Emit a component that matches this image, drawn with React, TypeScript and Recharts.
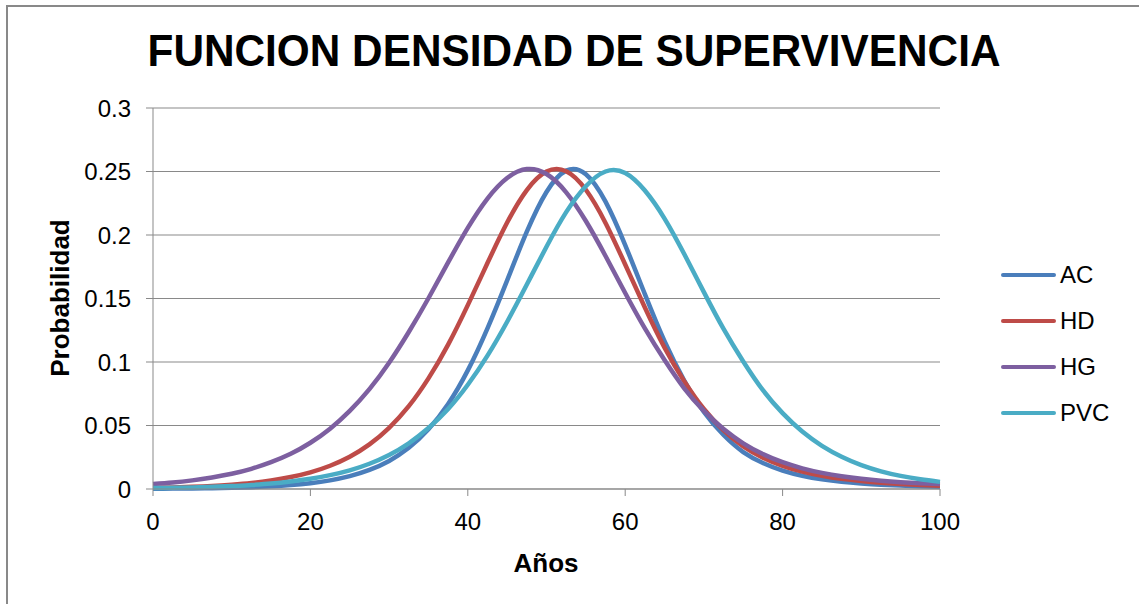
import React from "react";
import { LineChart, Line, XAxis, YAxis, CartesianGrid } from "recharts";

// edad (años), cada 2.5
const YEARS = [
  0, 2.5, 5, 7.5, 10, 12.5, 15, 17.5, 20, 22.5, 25, 27.5, 30, 32.5, 35, 37.5, 40, 42.5, 45, 47.5,
  50, 52.5, 55, 57.5, 60, 62.5, 65, 67.5, 70, 72.5, 75, 77.5, 80, 82.5, 85, 87.5, 90, 92.5, 95, 97.5, 100,
];

const AC = [
  0.0002, 0.0003, 0.0004, 0.0006, 0.0009, 0.0014, 0.0021, 0.0031, 0.0046, 0.0068, 0.0101, 0.015, 0.0221,
  0.0324, 0.047, 0.0669, 0.0934, 0.1265, 0.1643, 0.2026, 0.2339, 0.2507, 0.2479, 0.2263, 0.1921, 0.1534,
  0.1163, 0.0854, 0.0607, 0.0425, 0.0291, 0.0205, 0.0145, 0.0104, 0.0076, 0.0057, 0.0044, 0.0034, 0.0027,
  0.0021, 0.0017,
];

const HD = [
  0.0009, 0.0012, 0.0017, 0.0024, 0.0034, 0.0047, 0.0067, 0.0094, 0.0131, 0.0183, 0.0254, 0.0351, 0.0482,
  0.0652, 0.0871, 0.1137, 0.1448, 0.1779, 0.2098, 0.2354, 0.25, 0.2502, 0.2356, 0.2095, 0.1768, 0.1429,
  0.1113, 0.0849, 0.063, 0.0462, 0.0336, 0.0247, 0.0183, 0.0137, 0.0104, 0.008, 0.0063, 0.005, 0.004,
  0.0032, 0.0026,
];

const HG = [
  0.004, 0.0051, 0.0068, 0.0091, 0.012, 0.0159, 0.0211, 0.0277, 0.0364, 0.0475, 0.0615, 0.0786, 0.0994,
  0.1236, 0.1502, 0.1784, 0.2056, 0.2287, 0.2449, 0.2519, 0.248, 0.2336, 0.211, 0.1835, 0.1543, 0.1264,
  0.1015, 0.0793, 0.0615, 0.0472, 0.036, 0.0275, 0.0211, 0.0163, 0.0127, 0.01, 0.008, 0.0065, 0.0054,
  0.0046, 0.004,
];

const PVC = [
  0.0007, 0.0009, 0.0012, 0.0017, 0.0023, 0.0032, 0.0043, 0.0059, 0.008, 0.0109, 0.0147, 0.0199, 0.0268,
  0.036, 0.048, 0.063, 0.0821, 0.105, 0.1317, 0.161, 0.1908, 0.218, 0.2384, 0.25, 0.2488, 0.235, 0.2129,
  0.185, 0.155, 0.126, 0.1004, 0.0778, 0.0597, 0.0452, 0.034, 0.0254, 0.0188, 0.0139, 0.0103, 0.0076, 0.0056,
];

const X_TICKS = [0, 20, 40, 60, 80, 100];
const Y_TICKS = [0, 0.05, 0.1, 0.15, 0.2, 0.25, 0.3];
const Y_LABELS = ["0", "0.05", "0.1", "0.15", "0.2", "0.25", "0.3"];

const SERIES = [
  { key: "AC", values: AC, color: "#4a7ebb" },
  { key: "HD", values: HD, color: "#be4b48" },
  { key: "HG", values: HG, color: "#7d5fa0" },
  { key: "PVC", values: PVC, color: "#4aacc5" },
];

const data = YEARS.map((t, i) => {
  const row: Record<string, number> = { t };
  SERIES.forEach((s) => (row[s.key] = s.values[i]));
  return row;
});

const FONT = "'Liberation Sans', Arial, sans-serif";
const GRID = "#898989";

export default function App() {
  return (
    <div style={{ position: "absolute", left: 0, top: 0, width: 1139, height: 604, background: "#fff", overflow: "hidden", fontFamily: FONT }}>
      {/* marco */}
      <div style={{ position: "absolute", left: 6, top: 5, width: 1200, height: 700, borderTop: `2px solid ${GRID}`, borderLeft: `2px solid ${GRID}` }} />

      <LineChart width={1139} height={604} data={data} margin={{ top: 108, right: 199, bottom: 75, left: 0 }} style={{ position: "absolute", left: 0, top: 0 }}>
        <CartesianGrid vertical={false} stroke={GRID} strokeWidth={1} />
        <XAxis
          dataKey="t" type="number" domain={[0, 100]} ticks={X_TICKS} height={40}
          tick={{ fill: "#000", fontSize: 24, fontFamily: FONT }}
          axisLine={{ stroke: GRID }} tickLine={{ stroke: GRID }} tickSize={7} tickMargin={17}
        />
        <YAxis
          type="number" domain={[0, 0.3]} ticks={Y_TICKS} width={153}
          tickFormatter={(v) => Y_LABELS[Y_TICKS.indexOf(v)] ?? String(v)}
          tick={{ fill: "#000", fontSize: 24, fontFamily: FONT }}
          axisLine={{ stroke: GRID }} tickLine={{ stroke: GRID }} tickSize={7} tickMargin={15}
        />
        {SERIES.map((s) => (
          <Line
            key={s.key} type="natural" dataKey={s.key} stroke={s.color} strokeWidth={4.5}
            dot={false} activeDot={false} isAnimationActive={false}
          />
        ))}
      </LineChart>

      <div style={{ position: "absolute", left: 574, top: 51, transform: "translate(-50%, -50%) scaleX(0.962)", fontSize: 44, fontWeight: "bold", whiteSpace: "nowrap", lineHeight: 1 }}>
        FUNCION DENSIDAD DE SUPERVIVENCIA
      </div>

      <div style={{ position: "absolute", left: 60, top: 298, transform: "translate(-50%, -50%) rotate(-90deg)", fontSize: 26, fontWeight: "bold", whiteSpace: "nowrap", lineHeight: 1 }}>
        Probabilidad
      </div>

      <div style={{ position: "absolute", left: 546, top: 563, transform: "translate(-50%, -50%)", fontSize: 26, fontWeight: "bold", whiteSpace: "nowrap", lineHeight: 1 }}>
        Años
      </div>

      {SERIES.map((s, i) => (
        <div key={s.key} style={{ position: "absolute", left: 1001, top: 275 + i * 46, transform: "translateY(-50%)", display: "flex", alignItems: "center", fontSize: 24, lineHeight: 1 }}>
          <div style={{ width: 55, height: 4.5, borderRadius: 2, background: s.color, marginRight: 4 }} />
          <span>{s.key}</span>
        </div>
      ))}
    </div>
  );
}
